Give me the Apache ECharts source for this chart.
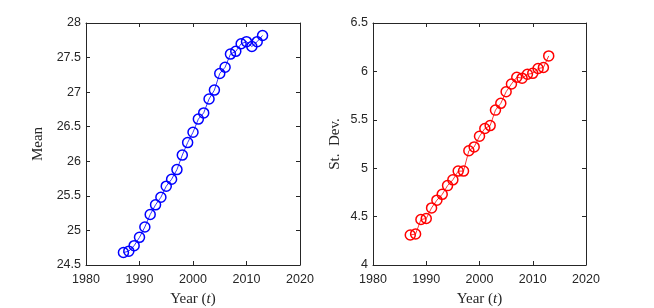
<!DOCTYPE html>
<html>
<head>
<meta charset="utf-8">
<script src="https://cdn.jsdelivr.net/npm/echarts@6/dist/echarts.min.js"></script>
<style>html,body{margin:0;padding:0;background:#fff}#c{width:654px;height:308px}</style>
</head>
<body>
<div id="c"></div>
<script>
const years = [1987,1988,1989,1990,1991,1992,1993,1994,1995,1996,1997,1998,1999,2000,2001,2002,2003,2004,2005,2006,2007,2008,2009,2010,2011,2012,2013];
const meanValues = [24.68,24.70,24.78,24.90,25.05,25.23,25.37,25.48,25.64,25.74,25.88,26.09,26.27,26.42,26.61,26.70,26.90,27.03,27.27,27.36,27.55,27.59,27.70,27.73,27.66,27.73,27.82];
const sdValues = [4.31,4.32,4.47,4.48,4.59,4.67,4.73,4.82,4.88,4.97,4.97,5.18,5.22,5.33,5.41,5.44,5.60,5.67,5.79,5.87,5.94,5.93,5.97,5.98,6.03,6.04,6.16];
const xTicks = {min:1980, max:2020, interval:10};
const meanTicks = {min:24.5, max:28, interval:0.5};
const sdTicks = {min:4, max:6.5, interval:0.5};

const axisColor = '#262626';
const tickFont = {color: axisColor, fontFamily: 'Liberation Sans, Arial', fontSize: 12.5};
const nameFont = {color: axisColor, fontFamily: 'Liberation Serif, serif', fontSize: 15};

function xAx(grid, main) {
  return {
    type:'value', gridIndex:grid, position: main?'bottom':'top',
    min:xTicks.min, max:xTicks.max, interval:xTicks.interval,
    axisLine:{show:true,onZero:false,lineStyle:{color:axisColor,width:1}},
    axisTick:{show:true,inside:true,length:4,lineStyle:{color:axisColor}},
    axisLabel:{show:main, ...tickFont, margin:8, formatter:v=>String(v)},
    splitLine:{show:false},
    name: main ? 'Year ({i|t})' : '',
    nameLocation:'middle', nameGap:27,
    nameTextStyle:{...nameFont, rich:{i:{...nameFont, fontStyle:'italic'}}}
  };
}
function yAx(grid, ticks, main, name, gap) {
  return {
    type:'value', gridIndex:grid, position: main?'left':'right',
    min:ticks.min, max:ticks.max, interval:ticks.interval,
    axisLine:{show:true,onZero:false,lineStyle:{color:axisColor,width:1}},
    axisTick:{show:true,inside:true,length:4,lineStyle:{color:axisColor}},
    axisLabel:{show:main, ...tickFont, margin:5, formatter:v=>String(v)},
    splitLine:{show:false},
    name: main ? name : '',
    nameLocation:'middle', nameGap:gap,
    nameTextStyle:nameFont
  };
}
function ser(xi, yi, vals, color) {
  return {
    type:'line', xAxisIndex:xi, yAxisIndex:yi,
    data: years.map((y,i)=>[y, vals[i]]),
    symbol:'circle', symbolSize:10, showSymbol:true,
    lineStyle:{color:color, width:0.8},
    itemStyle:{color:'rgba(0,0,0,0)', borderColor:color, borderWidth:1.5},
    emphasis:{disabled:true}, animation:false
  };
}
const chart = echarts.init(document.getElementById('c'), null, {renderer:'canvas'});
chart.setOption({
  animation:false,
  backgroundColor:'#fff',
  grid:[
    {left:86, top:23, width:214, height:242, outerBoundsMode:'none', containLabel:false},
    {left:373, top:23, width:213, height:242, outerBoundsMode:'none', containLabel:false}
  ],
  xAxis:[xAx(0,true), xAx(0,false), xAx(1,true), xAx(1,false)],
  yAxis:[yAx(0,meanTicks,true,'Mean',40), yAx(0,meanTicks,false,'',0),
         yAx(1,sdTicks,true,'St.  Dev.',30), yAx(1,sdTicks,false,'',0)],
  series:[ser(0,0,meanValues,'#0000ff'), ser(2,2,sdValues,'#ff0000')]
});
</script>
</body>
</html>
